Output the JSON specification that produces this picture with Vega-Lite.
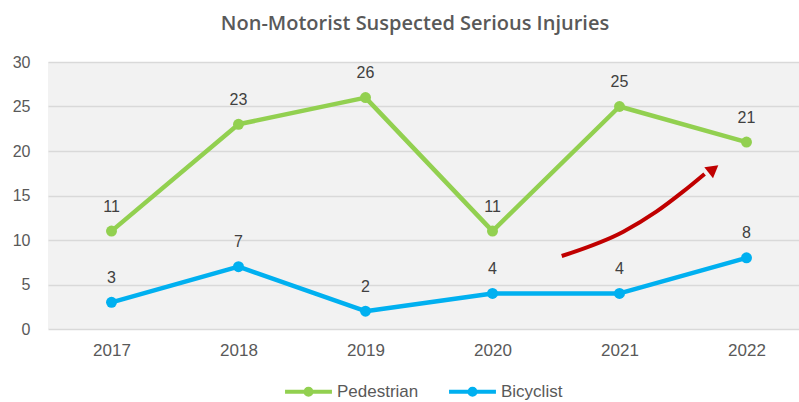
{
  "$schema": "https://vega.github.io/schema/vega-lite/v6.json",
  "width": 762,
  "height": 267,
  "autosize": {"type": "none"},
  "padding": {"left": 48, "top": 62, "right": 0, "bottom": 73},
  "background": "white",
  "config": {
    "view": {"fill": "#f2f2f2", "stroke": null},
    "font": "Liberation Sans"
  },
  "title": {
    "text": "Non-Motorist Suspected Serious Injuries",
    "font": "Open Sans",
    "fontSize": 20,
    "fontWeight": 600,
    "color": "#595959",
    "anchor": "middle",
    "dx": -14,
    "offset": 20
  },
  "datasets": {
    "series": [
      {"year": 2017, "type": "Pedestrian", "value": 11},
      {"year": 2018, "type": "Pedestrian", "value": 23},
      {"year": 2019, "type": "Pedestrian", "value": 26},
      {"year": 2020, "type": "Pedestrian", "value": 11},
      {"year": 2021, "type": "Pedestrian", "value": 25},
      {"year": 2022, "type": "Pedestrian", "value": 21},
      {"year": 2017, "type": "Bicyclist", "value": 3},
      {"year": 2018, "type": "Bicyclist", "value": 7},
      {"year": 2019, "type": "Bicyclist", "value": 2},
      {"year": 2020, "type": "Bicyclist", "value": 4},
      {"year": 2021, "type": "Bicyclist", "value": 4},
      {"year": 2022, "type": "Bicyclist", "value": 8}
    ],
    "arrow": [
      {"order": 1, "x": 2020.545, "y": 8.2},
      {"order": 2, "x": 2021.03, "y": 10.93},
      {"order": 3, "x": 2021.29, "y": 13.18},
      {"order": 4, "x": 2021.5, "y": 15.43},
      {"order": 5, "x": 2021.67, "y": 17.42}
    ],
    "arrowhead": [
      {"x": 2021.74, "y": 17.98}
    ]
  },
  "layer": [
    {
      "data": {"name": "series"},
      "mark": {"type": "line", "strokeWidth": 4.5, "strokeCap": "round", "strokeJoin": "round"},
      "encoding": {
        "x": {
          "field": "year", "type": "quantitative",
          "scale": {"domain": [2016.5, 2022.5], "nice": false, "zero": false},
          "axis": {
            "values": [2017, 2018, 2019, 2020, 2021, 2022],
            "format": "d", "title": null, "grid": false, "domain": false, "ticks": false,
            "labelFontSize": 17, "labelColor": "#595959", "labelPadding": 13, "labelFont": "Liberation Sans"
          }
        },
        "y": {
          "field": "value", "type": "quantitative",
          "scale": {"domain": [0, 30], "nice": false},
          "axis": {
            "values": [0, 5, 10, 15, 20, 25, 30],
            "title": null, "domain": false, "ticks": false,
            "gridColor": "#d9d9d9", "gridWidth": 1.5,
            "labelFontSize": 16, "labelColor": "#595959", "labelPadding": 18, "labelFont": "Liberation Sans"
          }
        },
        "color": {
          "field": "type", "type": "nominal",
          "scale": {"domain": ["Pedestrian", "Bicyclist"], "range": ["#92D050", "#00B0F0"]},
          "legend": {
            "title": null,
            "orient": "none",
            "legendX": 235,
            "legendY": 304,
            "direction": "horizontal",
            "symbolType": "M-1,0L1,0M0.13,0A0.13,0.13,0,1,1,-0.13,0A0.13,0.13,0,1,1,0.13,0Z",
            "symbolSize": 2200,
            "symbolStrokeWidth": 4,
            "labelFontSize": 17,
            "labelColor": "#595959",
            "labelFont": "Liberation Sans",
            "labelOffset": 3,
            "columnPadding": 22
          }
        }
      }
    },
    {
      "data": {"name": "series"},
      "mark": {"type": "point", "filled": true, "size": 120, "opacity": 1},
      "encoding": {
        "x": {"field": "year", "type": "quantitative"},
        "y": {"field": "value", "type": "quantitative"},
        "color": {"field": "type", "type": "nominal"}
      }
    },
    {
      "data": {"name": "series"},
      "mark": {"type": "text", "baseline": "alphabetic", "dy": -19.5, "fontSize": 16, "color": "#404040", "font": "Liberation Sans"},
      "encoding": {
        "x": {"field": "year", "type": "quantitative"},
        "y": {"field": "value", "type": "quantitative"},
        "text": {"field": "value", "type": "quantitative"}
      }
    },
    {
      "data": {"name": "arrow"},
      "mark": {"type": "line", "color": "#C00000", "strokeWidth": 4, "interpolate": "monotone", "strokeCap": "butt"},
      "encoding": {
        "x": {"field": "x", "type": "quantitative"},
        "y": {"field": "y", "type": "quantitative"},
        "order": {"field": "order", "type": "quantitative"}
      }
    },
    {
      "data": {"name": "arrowhead"},
      "mark": {"type": "point", "shape": "triangle-up", "filled": true, "color": "#C00000", "size": 200, "angle": 52, "opacity": 1},
      "encoding": {
        "x": {"field": "x", "type": "quantitative"},
        "y": {"field": "y", "type": "quantitative"}
      }
    }
  ]
}
